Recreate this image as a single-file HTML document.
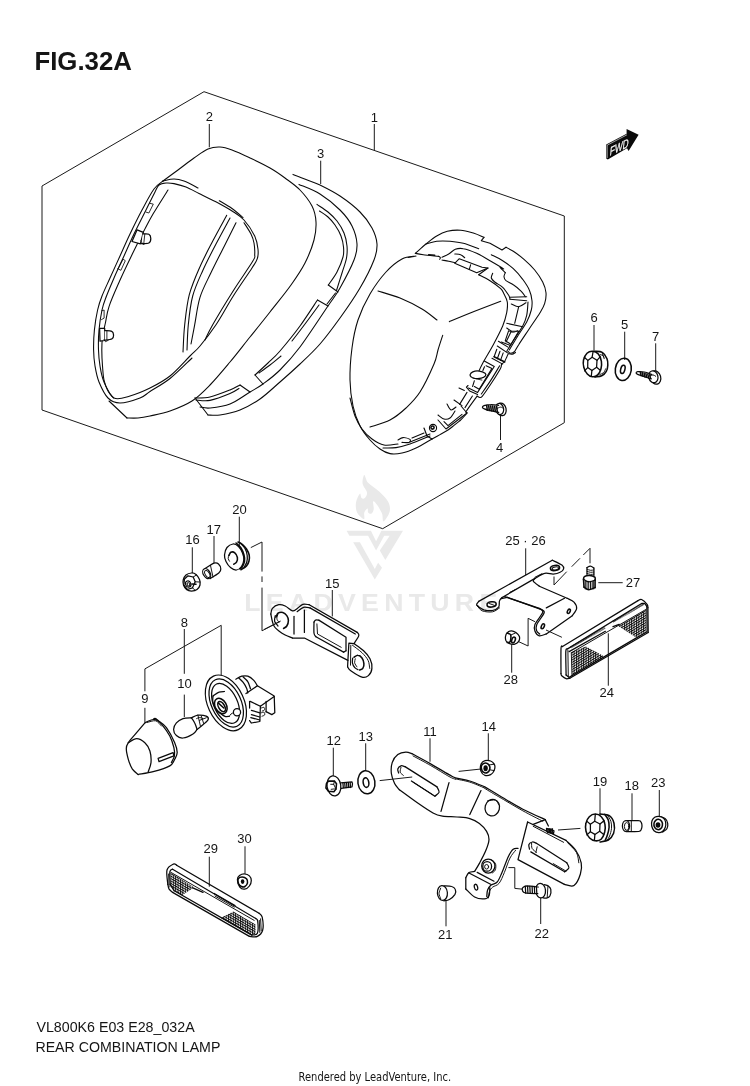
<!DOCTYPE html>
<html><head><meta charset="utf-8"><title>FIG.32A REAR COMBINATION LAMP</title>
<style>
html,body{margin:0;padding:0;background:#fff;}
svg{display:block;filter:grayscale(1);}
.l{fill:none;stroke:#0a0a0a;stroke-width:1.25;stroke-linecap:round;stroke-linejoin:round;}
.t{fill:none;stroke:#0a0a0a;stroke-width:0.95;stroke-linecap:round;stroke-linejoin:round;}
.k{fill:none;stroke:#0a0a0a;stroke-width:1.55;stroke-linecap:round;stroke-linejoin:round;}
.w{fill:#fff;stroke:#0a0a0a;stroke-width:1.25;stroke-linecap:round;stroke-linejoin:round;}
.wt{fill:#fff;stroke:#0a0a0a;stroke-width:0.95;stroke-linecap:round;stroke-linejoin:round;}
.b{fill:#0a0a0a;stroke:none;}
#p1 .l,#p2 .l,#p3 .l,#p2clips .l{stroke-width:1.08;}
#p1 .t,#p2 .t,#p3 .t,#p2clips .t{stroke-width:0.85;}
.d{fill:none;stroke:#1a1a1a;stroke-width:1;stroke-linecap:butt;stroke-linejoin:miter;}
.n{font-family:"Liberation Sans",sans-serif;font-size:13px;fill:#151515;text-anchor:middle;}
.wm{fill:#e9e9e9;stroke:none;}
</style></head>
<body>
<svg width="750" height="1086" viewBox="0 0 750 1086">
<rect width="750" height="1086" fill="#fff"/>
<g id="watermark">
<path class="wm" d="M364.3,474.9 C365.2,474.8 365.7,479.9 368.1,482.7 C370.6,485.4 375.9,488.4 379.2,491.5 C382.5,494.7 386.3,498.1 388,501.5 C389.8,504.8 390.4,508.1 389.7,511.4 C389,514.7 384.9,521 383.6,521.4 C382.3,521.7 383.1,516.4 382,513.6 C380.9,510.9 378.5,506.8 377,504.8 C375.5,502.8 373.7,500.7 373.1,501.5 C372.6,502.2 374,507.2 373.7,509.2 C373.4,511.2 372.4,513.1 371.5,513.6 C370.5,514.2 368.8,513.3 368.1,512.5 C367.5,511.7 368.2,508.6 367.6,508.6 C367,508.6 364.9,510.8 364.3,512.5 C363.7,514.3 365.1,519.1 364,519.1 C362.8,519.1 358.4,515.3 357.1,512.5 C355.8,509.8 355.5,505.7 356,502.6 C356.5,499.4 358.9,494.5 359.9,493.7 C360.8,493 360.7,497.4 361.5,498.1 C362.3,498.9 363.9,499.1 364.8,498.1 C365.8,497.2 367.4,495 367,492.6 C366.7,490.2 363.1,486.7 362.6,483.8 C362.2,480.8 363.4,475.1 364.3,474.9Z"/>
<path class="wm" d="M346.6,530.7 L370.9,530.7 L376.1,541.2 L381.4,530.7 L403,530.7 L385.3,560 L379.8,550.6 L389.7,535.7 L384.2,535.7 L376.1,550.6 L368.1,535.7 L349.4,535.7Z"/>
<path class="wm" d="M353.2,542.3 L359.9,542.3 L374.8,568.9 L378.1,562.8 L382,567.8 L374.8,579.4Z"/>
<text transform="translate(244.2,611.1) scale(1.15,1)" x="0" y="0" style="font-family:'Liberation Sans',sans-serif;font-weight:bold;font-size:23.2px;letter-spacing:4.6px;fill:#e9e9e9">LEADVENTURE</text>
</g>
<g id="text">
<text x="34.4" y="69.6" textLength="97.5" lengthAdjust="spacingAndGlyphs" style="font-family:'Liberation Sans',sans-serif;font-weight:bold;font-size:25.3px;fill:#151515">FIG.32A</text>
<text x="36.4" y="1031.9" textLength="158.3" lengthAdjust="spacingAndGlyphs" style="font-family:'Liberation Sans',sans-serif;font-size:14px;fill:#151515">VL800K6 E03 E28_032A</text>
<text x="35.4" y="1051.8" textLength="185" lengthAdjust="spacingAndGlyphs" style="font-family:'Liberation Sans',sans-serif;font-size:14px;fill:#151515">REAR COMBINATION LAMP</text>
<text x="298.6" y="1081.3" textLength="152.5" lengthAdjust="spacingAndGlyphs" style="font-family:'DejaVu Sans Condensed','DejaVu Sans',sans-serif;font-size:12.6px;fill:#151515">Rendered by LeadVenture, Inc.</text>
</g>
<g id="box">
<path class="d" d="M42,186 L204,91.7 L564.3,216 L564.3,422.7 L382.7,528.7 L42,410Z"/>
</g>
<g id="labels">
<text class="n" x="209.3" y="121">2</text>
<path class="d" d="M209.3,124 L209.3,147.3"/>
<text class="n" x="374.3" y="121.7">1</text>
<path class="d" d="M374.3,124 L374.3,150"/>
<text class="n" x="320.7" y="158.3">3</text>
<path class="d" d="M320.7,160.7 L320.7,184"/>
<text class="n" x="594" y="322">6</text>
<path class="d" d="M594,325 L594,353"/>
<text class="n" x="624.7" y="329.3">5</text>
<path class="d" d="M624.7,331.7 L624.7,360"/>
<text class="n" x="655.7" y="341">7</text>
<path class="d" d="M655.7,343.3 L655.7,371.7"/>
<text class="n" x="499.5" y="451.7">4</text>
<path class="d" d="M500.5,415 L500.5,440"/>
<text class="n" x="525.5" y="545">25 · 26</text>
<path class="d" d="M525.7,548.3 L525.7,575"/>
<text class="n" x="633" y="587.3">27</text>
<path class="d" d="M598.3,582.7 L622.7,582.7"/>
<text class="n" x="510.7" y="684.2">28</text>
<path class="d" d="M511.7,643.3 L511.7,672.7"/>
<text class="n" x="606.7" y="697.3">24</text>
<path class="d" d="M608.3,633.3 L608.3,685.7"/>
<text class="n" x="600" y="785.7">19</text>
<path class="d" d="M600,788.3 L600,816.7"/>
<text class="n" x="631.7" y="790">18</text>
<path class="d" d="M632,793.3 L632,822.7"/>
<text class="n" x="658.2" y="787.3">23</text>
<path class="d" d="M659.3,790 L659.3,818.3"/>
<text class="n" x="541.8" y="937.7">22</text>
<path class="d" d="M540.7,897.3 L540.7,924"/>
<text class="n" x="239.5" y="514">20</text>
<path class="d" d="M239.3,516.7 L239.3,548.3"/>
<text class="n" x="213.8" y="534">17</text>
<path class="d" d="M214,536 L214,563.3"/>
<text class="n" x="192.5" y="544.3">16</text>
<path class="d" d="M192.3,547.3 L192.3,580"/>
<text class="n" x="184.3" y="626.6">8</text>
<path class="d" d="M184.3,629 L184.3,673.8"/>
<text class="n" x="184.6" y="688.3">10</text>
<path class="d" d="M184.3,694.6 L184.3,717"/>
<text class="n" x="144.9" y="703.2">9</text>
<path class="d" d="M144.9,707.8 L144.9,722"/>
<text class="n" x="210.8" y="852.6">29</text>
<path class="d" d="M209.3,856.7 L209.3,886.7"/>
<text class="n" x="244.5" y="843.3">30</text>
<path class="d" d="M245,846.3 L245,874"/>
<text class="n" x="332.2" y="587.7">15</text>
<path class="d" d="M332.3,590 L332.3,616.4"/>
<text class="n" x="333.7" y="745">12</text>
<path class="d" d="M333.3,747.7 L333.3,776.7"/>
<text class="n" x="365.8" y="740.7">13</text>
<path class="d" d="M365.7,743.3 L365.7,770"/>
<text class="n" x="430" y="735.7">11</text>
<path class="d" d="M430,738.3 L430,761.7"/>
<text class="n" x="488.7" y="731">14</text>
<path class="d" d="M488.3,733.3 L488.3,761.7"/>
<text class="n" x="445.3" y="939">21</text>
<path class="d" d="M446,900.7 L446,926.3"/>
<path class="d" d="M144.9,691.3 L144.9,668.9 L221.2,625.3 L221.2,675.5"/>
</g>
<g id="p1">
<path class="l" d="M416,256 C413.7,256.5 407,256.3 402,259 C397,261.7 391.3,266.2 386,272 C380.7,277.8 374.7,286 370,294 C365.3,302 361,311 358,320 C355,329 353.3,338 352,348 C350.7,358 349.8,370.3 350,380 C350.2,389.7 351.3,398.3 353,406 C354.7,413.7 357.2,420.3 360,426 C362.8,431.7 366.7,436.2 370,440 C373.3,443.8 376.7,446.7 380,449 C383.3,451.3 386.3,452.9 390,453.6 C393.7,454.3 397.7,453.9 402,453 C406.3,452.1 411,450.3 416,448 C421,445.7 429.3,440.5 432,439"/>
<path class="l" d="M350,398 C350.8,401 353,410.8 355,416 C357,421.2 359.2,425.2 362,429 C364.8,432.8 368.3,436.3 372,439 C375.7,441.7 379.7,444.2 384,445 C388.3,445.8 395.7,444.2 398,444"/>
<path class="l" d="M383,448 C385.2,447.9 391.5,448.3 396,447.6 C400.5,446.9 404.3,445.9 410,444 C415.7,442.1 426.7,437.3 430,436"/>
<path class="l" d="M378,291 C381.7,292.2 392.7,295 400,298 C407.3,301 415.8,305.3 422,309 C428.2,312.7 434.5,318.2 437,320"/>
<path class="l" d="M449.3,321.7 C453.4,320 465.4,315 474,311.6 C482.6,308.2 496.2,303 500.7,301.3"/>
<path class="l" d="M442.7,335.3 C441.9,337.8 439.4,345.2 438,350 C436.6,354.8 437,357 434,364 C431,371 424.7,384.7 420,392 C415.3,399.3 411,403.3 406,408 C401,412.7 396,416.8 390,420 C384,423.2 373.3,425.8 370,427"/>
<path class="l" d="M415.3,253.3 C417.1,251.8 422.4,246.9 426,244 C429.6,241.1 433.1,238.1 436.7,236 C440.2,233.9 443.3,232.3 447.3,231.3 C451.3,230.4 456.2,229.9 460.7,230.3 C465.1,230.6 470.1,232.2 474,233.3 C477.9,234.5 482.3,236.7 484,237.3"/>
<path class="l" d="M484,237.3 L481.3,240.7 L490,243.3 L502,250 L506,247.3"/>
<path class="l" d="M506,247.3 C507.2,248 510.3,249.3 513.3,251.3 C516.3,253.3 520.4,256.2 524,259.3 C527.6,262.4 531.6,266.2 534.7,270 C537.8,273.8 540.8,278.2 542.7,282 C544.6,285.8 545.7,289.1 546,292.7 C546.3,296.2 545.7,300 544.7,303.3 C543.7,306.7 542.6,308.4 540,312.7 C537.4,316.9 532.9,323.3 529.3,328.7 C525.8,334 521.1,340.9 518.7,344.7 C516.2,348.4 516,349.9 514.7,351.3 C513.3,352.8 511.8,353.3 510.7,353.3 C509.6,353.3 508.4,351.7 508,351.3"/>
<path class="l" d="M426,244 C427.8,243.6 432.7,241.8 436.7,241.3 C440.7,240.9 445.6,241 450,241.3 C454.4,241.7 458.6,242.1 463.3,243.3 C468.1,244.6 476.1,247.8 478.7,248.7"/>
<path class="l" d="M415.3,253.3 C416.7,253.6 419.4,254.2 423.3,254.7 C427.2,255.2 436.1,256.1 438.7,256.4"/>
<path class="k" d="M428.7,254.8 L434.7,255.3"/>
<path class="l" d="M438.7,256.4 C439,256.6 440.2,257.2 440.4,257.7 C440.6,258.2 439.7,259.1 439.6,259.3"/>
<path class="l" d="M408,257.5 L414,256.5"/>
<path class="l" d="M442,257.3 C443.1,256.8 446.4,255.3 448.7,254 C450.9,252.7 452.9,250.2 455.3,249.3 C457.8,248.4 459.8,248 463.3,248.7 C466.9,249.3 472.2,251.3 476.7,253.3 C481.1,255.3 485.6,258.1 490,260.7 C494.4,263.2 501.7,267.6 503.3,268.7 C505,269.8 499.7,266.7 500,267.3 C500.3,268 504.4,271.8 505.3,272.7"/>
<path class="l" d="M505.3,272.7 C505.1,273.3 503.9,275.3 504,276.7 C504.1,278 504.4,279.3 506,280.7 C507.6,282 510.8,282.9 513.3,284.7 C515.9,286.4 519.3,289.3 521.3,291.3 C523.3,293.3 524.7,295.8 525.3,296.7"/>
<path class="l" d="M442,260 C443.1,260.2 446.4,260.9 448.7,261.3 C450.9,261.8 454.2,262.4 455.3,262.7"/>
<path class="l" d="M454.7,254 C455.7,254.1 459,254 460.7,254.7 C462.3,255.3 464,257.2 464.7,257.7"/>
<path class="l" d="M459.3,258.7 L454.7,263.3 L476.7,272.7 L488,268 L482,267.3 L470,262.7 L459.3,258.7"/>
<path class="l" d="M470.7,264.7 L469.3,269.3"/>
<path class="l" d="M488,268 L478.7,274.7"/>
<path class="l" d="M478.7,274.7 C480.6,275.7 486.3,278.3 490,280.7 C493.7,283 498.3,286.4 500.7,288.7 C503,290.9 502.9,291.8 504,294 C505.1,296.2 506.9,298.9 507.3,302 C507.8,305.1 507.4,308.7 506.7,312.7 C505.9,316.7 504.9,320.7 502.7,326 C500.4,331.3 496.7,338.4 493.3,344.7 C490,350.9 485.3,358.3 482.7,363.3 C480,368.3 478.2,372.8 477.3,374.7"/>
<path class="l" d="M492.7,273.3 C492.4,274.1 491,276.6 491.3,278 C491.7,279.4 492.8,280.4 494.7,282 C496.6,283.6 500.3,285.1 502.7,287.3 C505,289.6 507.4,293.3 508.7,295.3 C509.9,297.3 509.8,298.7 510,299.3"/>
<path class="l" d="M491.3,254.7 C493.2,255.7 499,258.3 502.7,260.7 C506.3,263 510,265.6 513.3,268.7 C516.7,271.8 520,275.8 522.7,279.3 C525.3,282.9 527.8,286.4 529.3,290 C530.9,293.6 531.7,297.3 532,300.7 C532.3,304 532.2,306.4 531.3,310 C530.4,313.6 529,317.6 526.7,322 C524.3,326.4 520.2,332 517.3,336.7 C514.4,341.3 510.7,347.8 509.3,350"/>
<path class="l" d="M528,302 C527.8,304.2 527.6,311.3 526.7,315.3 C525.8,319.3 524.9,321.8 522.7,326 C520.4,330.2 516,336.4 513.3,340.7 C510.7,344.9 507.8,349.6 506.7,351.3"/>
<path class="l" d="M510,299.3 L526.7,300.7"/>
<path class="l" d="M510,297.3 L526.7,296.7"/>
<path class="l" d="M511.3,304 C512.6,304.4 516.2,306.9 518.7,306.7 C521.1,306.4 524.8,303.3 526,302.7"/>
<path class="l" d="M518.7,306.7 L514.7,323.3"/>
<path class="l" d="M506.7,323.3 L522.7,326.7"/>
<path class="l" d="M506.7,328 L511.3,331.3 L518.7,331.3"/>
<path class="l" d="M511.3,331.3 L506,342"/>
<path class="l" d="M501.3,342 L510,345.3"/>
<path class="l" d="M518.7,331.3 L510,346"/>
<path class="l" d="M515.5,352.4 C514.9,352.7 513.4,354.1 512.3,354.3 C511.1,354.5 509.4,353.3 508.5,353.7 C507.6,354.1 507.6,355.3 506.9,356.7 C506.2,358.1 505.2,360.8 504.3,362 C503.4,363.2 502.2,363.1 501.6,364.1 C501,365.2 502.1,365.4 500.5,368.4 C498.9,371.4 495,377.6 492,382.3 C489,386.9 484.5,393.6 482.4,396.1 C480.3,398.6 480.1,397.2 479.2,397.2 C478.3,397.2 477.4,396.3 477.1,396.1"/>
<path class="l" d="M477.1,396.1 C475.3,398.6 468.1,408.2 466.4,411.1 C464.7,413.9 468,411.6 466.9,413.2 C465.9,414.8 461.2,419.4 460,420.7"/>
<path class="l" d="M499.7,365.7 C498.2,368.1 494,375.4 490.9,380.1 C487.9,384.8 482.9,391.7 481.3,394"/>
<path class="l" d="M508.5,331.1 L505.3,340.7 L510.1,343.7"/>
<path class="t" d="M508.5,330.9 C509.3,331.1 511.8,332.4 513.3,332.3 C514.8,332.3 516.9,330.9 517.6,330.6"/>
<path class="l" d="M498.4,341.2 L508,347.1"/>
<path class="l" d="M497.3,346 L507.5,352.9"/>
<path class="l" d="M496.8,349.2 L494.1,356.7"/>
<path class="l" d="M500,351.3 L497.3,358.8"/>
<path class="l" d="M503.2,352.9 L500.5,360.4"/>
<path class="k" d="M494.1,356.7 L504.8,362"/>
<path class="l" d="M492,358.3 L502.7,364.1"/>
<path class="l" d="M484.3,361.1 L494.3,366.5 L477.6,392.4 L468.5,388.1"/>
<path class="l" d="M486.1,365.7 L492,368.4 L479.2,389.2 L474.4,386.5"/>
<path class="l" d="M484.5,366.8 L482.9,370.5"/>
<path class="w" d="M470.1,374.6 C470.4,373.7 471.3,372.4 472.8,371.8 C474.3,371.2 477.2,370.8 479.2,371.1 C481.2,371.3 484,372.4 485.1,373.2 C486.1,374 486,375 485.4,375.9 C484.8,376.7 483.1,377.8 481.3,378.2 C479.6,378.7 476.6,378.7 474.9,378.5 C473.2,378.3 472,377.6 471.2,376.9 C470.4,376.3 469.9,375.4 470.1,374.6Z"/>
<path class="t" d="M473.3,378 C474,378.2 476.2,378.7 477.6,379.1 C479,379.4 481.2,380 481.9,380.1"/>
<path class="l" d="M474.4,380.7 L472.6,386.5"/>
<path class="l" d="M468,385.5 L466.4,387.1 L469.6,391 L477.6,394.5"/>
<path class="l" d="M459,388 L464.4,390.4"/>
<path class="l" d="M459.6,404.4 L467,392.4"/>
<path class="l" d="M465,407.6 L472.4,396"/>
<path class="l" d="M454,400 L462,405.6"/>
<path class="l" d="M438,420 L446,429 L467,413 L461,406"/>
<path class="l" d="M444,421.6 L448,425.6 L462,414.4"/>
<path class="l" d="M438,415 C439,415.7 442,418.5 444,419 C446,419.5 448.2,419.3 450,418 C451.8,416.7 454.2,412.2 455,411"/>
<path class="l" d="M447,404 C447.7,405 449.5,409.5 451,410 C452.5,410.5 455.2,407.5 456,407"/>
<path class="l" d="M460,420.6 C459,421.4 456,423.8 454,425.4 C452,427 450.3,428.5 448,430 C445.7,431.5 442.7,433.1 440,434.6 C437.3,436.1 433.3,438.3 432,439"/>
<ellipse class="l" cx="433" cy="428" rx="3.6" ry="3.6"/>
<ellipse class="k" cx="432.5" cy="427.5" rx="1.6" ry="1.6"/>
<path class="l" d="M412,438 L424,433"/>
<path class="l" d="M410,442 L430,434"/>
<path class="l" d="M424,428 L427,436"/>
<path class="l" d="M427,436 L432,439"/>
<path class="l" d="M398,440 C398.8,439.6 401,437.7 403,437.6 C405,437.5 409,438.6 410,439.4 C411,440.2 410.3,441.9 409,442.4 C407.7,442.9 403.2,442.4 402,442.4"/>
</g>
<g id="p2">
<path class="l" d="M163,181 C165.5,179.2 172.8,173.8 178,170 C183.2,166.2 189,161.5 194,158 C199,154.5 203.7,150.8 208,149 C212.3,147.2 216,146.8 220,147 C224,147.2 227,148.2 232,150 C237,151.8 243.7,155 250,158 C256.3,161 264.2,164.7 270,168 C275.8,171.3 280,174.3 285,178 C290,181.7 295.5,185.3 300,190 C304.5,194.7 309.3,200.7 312,206 C314.7,211.3 315.7,216.3 316,222 C316.3,227.7 315.8,233.2 314,240 C312.2,246.8 308.8,255.5 305,263 C301.2,270.5 296.8,276.8 291,285 C285.2,293.2 276.8,303.3 270,312 C263.2,320.7 256.7,328.7 250,337 C243.3,345.3 236.7,354 230,362 C223.3,370 216.3,378.5 210,385 C203.7,391.5 198.7,396.7 192,401 C185.3,405.3 177,408.5 170,411 C163,413.5 155.3,414.8 150,416 C144.7,417.2 141.8,417.7 138,418 C134.2,418.3 128.8,418 127,418"/>
<path class="l" d="M127,418 L109,401"/>
<path class="l" d="M159,185 C160.8,183.5 163.5,183.2 166,183 C168.5,182.8 170.7,182.9 174,183.6 C177.3,184.3 181.8,185.3 186,187 C190.2,188.7 195,191.5 199,193.5 C203,195.5 206.7,197.4 210,199 C213.3,200.6 215,201.3 218.7,203.3 C222.4,205.3 227.8,208.2 232,211 C236.2,213.8 240.2,215.8 244,220 C247.8,224.2 252.4,231.1 254.7,236 C257,240.9 257.6,245.5 258,249.3 C258.4,253.1 258.3,255.6 257.3,258.7 C256.3,261.8 256,261.8 252,268 C248,274.2 239.3,286.6 233.3,296 C227.3,305.4 221.6,316.4 216,324.7 C210.4,333 204.3,340.8 200,346 C195.7,351.2 195,351 190,356 C185,361 176.7,370.7 170,376 C163.3,381.3 156.7,384.7 150,388 C143.3,391.3 136,394.3 130,396 C124,397.7 118.3,400.3 114,398 C109.7,395.7 106.3,387.3 104,382 C101.7,376.7 100.9,371.3 100,366 C99.1,360.7 98.7,356 98.5,350 C98.3,344 98.4,336.7 99,330 C99.6,323.3 100.8,315.7 102,310 C103.2,304.3 104.5,301.3 106.5,296 C108.5,290.7 111.1,284.7 114,278 C116.9,271.3 120.7,263.3 124,256 C127.3,248.7 130.3,241.7 134,234 C137.7,226.3 142.5,217 146,210 C149.5,203 152.8,196.2 155,192 C157.2,187.8 157.2,186.5 159,185Z"/>
<path class="l" d="M163,181 C161.5,182.3 157.5,184.2 154,189 C150.5,193.8 146,202.5 142,210 C138,217.5 133.7,226.3 130,234 C126.3,241.7 123.3,248.7 120,256 C116.7,263.3 113,271.3 110,278 C107,284.7 104.1,290.7 102,296 C99.9,301.3 98.9,304.3 97.6,310 C96.3,315.7 95.1,323.3 94.4,330 C93.7,336.7 93.5,344 93.6,350 C93.7,356 94.1,360.7 95,366 C95.9,371.3 96.8,376.7 99,382 C101.2,387.3 104.5,394.5 108,398 C111.5,401.5 114.7,403 120,403 C125.3,403 135,399.9 140,398 C145,396.1 145,394.8 150,391.5 C155,388.2 163,384.1 170,378.5 C177,372.9 188.3,361.4 192,358"/>
<path class="l" d="M163,181 C164.8,180.7 170.5,179 174,179 C177.5,179 180,179.5 184,181 C188,182.5 195.7,186.8 198,188"/>
<path class="l" d="M219.3,200.7 C221.4,202 228.1,205.7 232,208.5 C235.9,211.3 241.2,216 243,217.5"/>
<path class="l" d="M244,222.7 C245.2,224.6 249.3,230.6 251,234 C252.7,237.4 253.4,239.6 254,243 C254.6,246.4 254.9,251.6 254.7,254.7 C254.5,257.8 256.3,255.3 252.7,261.3 C249.1,267.3 240,280.1 233.3,290.7 C226.6,301.3 217.4,316.5 212.7,324.7 C208,332.9 206.3,337.4 205,340"/>
<path class="l" d="M226.7,215.3 C224.5,219.4 217.8,231.4 213.3,240 C208.9,248.6 204,257.6 200,266.7 C196,275.8 191.9,285 189.3,294.7 C186.8,304.4 185.8,315.1 184.7,324.7 C183.6,334.2 183.3,347.4 183,352"/>
<path class="l" d="M230,218 C227.7,222.3 220.6,235.2 216,244 C211.4,252.8 206.6,262 202.7,270.7 C198.8,279.4 195.1,287 192.7,296 C190.3,305 189.2,315.7 188.3,324.7 C187.4,333.7 187.2,345.8 187,350"/>
<path class="l" d="M236,222.7 C234,226.7 228.2,238.3 224,246.7 C219.8,255.1 214.7,264.9 210.7,273.3 C206.7,281.7 202.7,288.7 200,297.3 C197.3,305.9 196.2,316.9 194.7,324.7 C193.2,332.5 191.6,340.8 191,344"/>
<path class="l" d="M168,190 C165.6,193.9 157.2,207 153.3,213.6 C149.4,220.2 147.9,223.2 144.5,229.8 C141.1,236.4 136.9,244.7 132.7,253.3 C128.5,261.9 123.4,272.5 119.5,281.3 C115.6,290.1 111.4,299.4 109.1,306.3 C106.8,313.2 106.6,317.3 105.5,322.5 C104.4,327.7 103.1,332.7 102.5,337.3 C101.9,341.9 101.8,345.2 101.8,350 C101.8,354.8 102.1,361 102.5,366 C102.9,371 103.1,375.8 104,380 C104.9,384.2 106.4,388 108,391 C109.6,394 112.6,396.8 113.5,398"/>
</g>
<g id="p2clips">
<path class="t" d="M149.6,203.3 L153.3,204.1 L148.9,213 L146,212.1"/>
<path class="t" d="M118,268.8 L123.1,259.2 L125.3,260.7 L120.9,270.3 L118,268.8"/>
<path class="t" d="M101.8,310.8 L104.1,310 L104.1,318.1 L101.5,319.6"/>
<path class="w" d="M137.1,229.8 L143.3,232.4 L140.4,243.9 L132,241.5Z"/>
<path class="w" d="M142.7,233.9 C143.8,233.9 147.6,233.4 148.9,234.2 C150.3,235 150.8,237.1 150.8,238.6 C150.8,240.1 150.5,242.2 148.9,243 C147.4,243.9 142.8,243.5 141.5,243.6"/>
<path class="t" d="M144.8,234.2 L143.8,243.3"/>
<path class="t" d="M140.8,240.8 L143,244.5 L146,243.3"/>
<path class="w" d="M99.6,328.4 L104.7,328.4 L104.7,340.5 L100,341.1Z"/>
<path class="w" d="M104.7,330.6 C105.9,330.8 110.3,330.6 111.8,331.4 C113.3,332.1 113.5,333.8 113.6,335.1 C113.6,336.3 113.6,337.9 112.1,338.7 C110.6,339.6 106,340 104.7,340.2"/>
<path class="t" d="M106.9,330.9 L106.9,339.9"/>
<path class="t" d="M104,339.5 L105.5,341.7 L108.4,340.2"/>
</g>
<g id="p3">
<path class="l" d="M293,174.4 C295.2,175.2 301.5,177.7 306,179.5 C310.5,181.3 314.3,182.2 320,185 C325.7,187.8 333.3,191.5 340,196 C346.7,200.5 354.7,206.7 360,212 C365.3,217.3 369.2,222.7 372,228 C374.8,233.3 376.7,238.7 377,244 C377.3,249.3 376.8,252.7 374,260 C371.2,267.3 365.7,278.3 360,288 C354.3,297.7 346.7,308.7 340,318 C333.3,327.3 326.7,336.3 320,344 C313.3,351.7 306.7,357.7 300,364 C293.3,370.3 286.7,376.2 280,382 C273.3,387.8 266.7,394.3 260,399 C253.3,403.7 246.7,407.3 240,410 C233.3,412.7 225.3,414.2 220,415 C214.7,415.8 210,415 208,415"/>
<path class="l" d="M208,415 L195,398"/>
<path class="l" d="M299,184.4 C302.5,186 313.2,189.7 320,194 C326.8,198.3 334.7,204.7 340,210 C345.3,215.3 349.2,220.3 352,226 C354.8,231.7 356.7,238.3 357,244 C357.3,249.7 356.8,252.7 354,260 C351.2,267.3 344.3,280.3 340,288 C335.7,295.7 334.7,296.2 328,306 C321.3,315.8 308,336.3 300,347 C292,357.7 286.2,363.8 280,370 C273.8,376.2 268,380.3 263,384 C258,387.7 255.5,388.7 250,392 C244.5,395.3 236.7,401.3 230,404 C223.3,406.7 215,407.5 210,408 C205,408.5 201.7,407.2 200,407"/>
<path class="l" d="M317,204.4 C318.8,205.7 324.7,209.2 328,212 C331.3,214.8 334.3,217.5 337,221 C339.7,224.5 342.3,228.8 344,233 C345.7,237.2 346.6,241.8 347,246 C347.4,250.2 347.3,253.5 346.5,258 C345.7,262.5 343.7,267.6 342,273 C340.3,278.4 337.4,287.6 336.5,290.5"/>
<path class="l" d="M319.5,211 C320.9,212 325.4,214.7 328,217 C330.6,219.3 332.8,221.8 335,225 C337.2,228.2 339.6,232.3 341,236 C342.4,239.7 343.2,243.5 343.5,247 C343.8,250.5 344.1,252.8 343,257 C341.9,261.2 339.4,267.3 337,272 C334.6,276.7 329.8,282.8 328.3,285"/>
<path class="l" d="M328.3,285 L338,292"/>
<path class="l" d="M335.5,293 L327,304"/>
<path class="l" d="M328,306 L317.5,300"/>
<path class="l" d="M317.5,300 C314.6,304.3 306.2,317.5 300,326 C293.8,334.5 285.3,344.8 280,351 C274.7,357.2 272.2,359 268,363 C263.8,367 257.2,373 255,375"/>
<path class="l" d="M319,305 C316.7,308.2 309.5,318 305,324 C300.5,330 294.2,338.2 292,341"/>
<path class="l" d="M281,356 C279.2,357.5 273.7,362.2 270,365 C266.3,367.8 260.8,371.7 259,373"/>
<path class="l" d="M255,375 L263,384"/>
<path class="l" d="M250,392 L240,385"/>
<path class="l" d="M240,385 C238.3,385.8 235,388 230,390 C225,392 215.8,395.7 210,397 C204.2,398.3 197.5,397.8 195,398"/>
<path class="l" d="M239,388.5 C237.5,389.4 234.8,391.6 230,393.6 C225.2,395.6 215.7,399.3 210,400.4 C204.3,401.5 198.3,400.1 196,400"/>
</g>
<g id="p4">
<ellipse class="w" cx="501.4" cy="409.4" rx="4.7" ry="6.4" transform="rotate(-12 501.4 409.4)"/>
<ellipse class="w" cx="499.6" cy="409" rx="4" ry="5.6" transform="rotate(-12 499.6 409)"/>
<path class="w" d="M498.7,405.3 C497.3,405.2 493.1,404.6 490.7,404.7 C488.2,404.7 485.4,405.3 484,405.7 C482.6,406.2 482.4,406.8 482.4,407.3 C482.4,407.9 482.9,408.4 484.3,408.9 C485.6,409.5 488.3,410.1 490.7,410.7 C493.1,411.2 497.3,412.1 498.7,412.4"/>
<path class="k" d="M486.7,405.5 L487.3,410.3"/>
<path class="k" d="M488.7,405.7 L489.3,410.6"/>
<path class="k" d="M490.7,405.9 L491.3,410.9"/>
<path class="k" d="M492.7,406.1 L493.3,411.3"/>
<path class="k" d="M494.7,406.3 L495.3,411.6"/>
<path class="k" d="M496.7,406.5 L497.3,411.9"/>
<path class="t" d="M496.7,408.7 C497.3,408.4 499.5,407.1 500.7,407.1 C501.8,407.1 503.2,408.4 503.7,408.7"/>
</g>
<g id="p567">
<path class="k" d="M595,351.3 C596.2,351.5 600.3,351 602.3,352.3 C604.3,353.5 606.1,356.5 607,358.7 C607.9,360.8 607.9,363.2 607.8,365.3 C607.7,367.4 607.4,369.6 606.3,371.3 C605.3,373.1 603.6,374.8 601.7,375.7 C599.8,376.7 596.1,376.8 595,377.1"/>
<path class="w" d="M592.5,351.3 C594.4,351.4 596.8,352.3 598.3,354 C599.8,355.7 601,358.9 601.4,361.3 C601.8,363.8 601.6,366.4 601,368.7 C600.4,370.9 599.1,373.6 597.7,374.9 C596.2,376.3 594.2,377 592.5,376.8 C590.7,376.6 588.7,375.6 587.3,374 C585.8,372.4 584.4,369.7 583.8,367.3 C583.2,365 583,362.3 583.5,360 C584.1,357.7 585.5,354.8 587,353.3 C588.5,351.9 590.6,351.2 592.5,351.3Z" style="stroke-width:1.55"/>
<path class="l" d="M592.1,357.3 L597,360.3 L596.6,367.3 L591.9,370.4 L587.7,367.6 L587.8,360.4Z"/>
<path class="l" d="M592.1,357.3 L593,352"/>
<path class="l" d="M597,360.3 L600.3,356.7"/>
<path class="l" d="M596.6,367.3 L600.6,370.4"/>
<path class="l" d="M591.9,370.4 L591.3,376.3"/>
<path class="l" d="M587.7,367.6 L584.6,370.9"/>
<path class="l" d="M587.8,360.4 L584.3,357.3"/>
<path class="t" d="M600.3,354.7 C600.8,354.8 602.6,355.1 603.3,355.7 C603.9,356.4 603.9,358.2 604.1,358.7"/>
<path class="t" d="M599.8,374.4 C600.4,374.1 602.7,373.6 603.7,372.7 C604.6,371.7 605.3,369.3 605.7,368.7"/>
<path class="t" d="M602.3,353.3 L603.7,357.3"/>
<ellipse class="k" cx="623.3" cy="369.4" rx="8" ry="11.2" transform="rotate(8 623.3 369.4)"/>
<ellipse class="k" cx="622.8" cy="369.4" rx="2.1" ry="4.2" transform="rotate(14 622.8 369.4)"/>
<ellipse class="w" cx="655.5" cy="377.5" rx="5.2" ry="6.8" transform="rotate(-15 655.5 377.5)"/>
<ellipse class="w" cx="653.3" cy="376.8" rx="4.6" ry="6" transform="rotate(-15 653.3 376.8)"/>
<path class="w" d="M651.7,374.4 C650.4,374 646.7,372.4 644.3,372 C642,371.6 639,371.6 637.7,371.7 C636.3,371.9 636.1,372.6 636.1,373.1 C636.1,373.5 636.3,373.8 637.7,374.4 C639,375 642.1,375.9 644.3,376.7 C646.6,377.4 650.1,378.6 651.3,378.9"/>
<path class="k" d="M640.3,372 L641.1,375.7"/>
<path class="k" d="M642.2,372.5 L643,376.3"/>
<path class="k" d="M644.1,373.1 L644.9,376.8"/>
<path class="k" d="M645.9,373.6 L646.7,377.3"/>
<path class="k" d="M647.8,374.1 L648.6,377.9"/>
<path class="k" d="M649.7,374.7 L650.5,378.4"/>
<path class="t" d="M649.7,376 C650.2,375.8 652,374.9 653,374.9 C654,375 655.2,376 655.7,376.3"/>
</g>
<g id="p8">
<path class="l" d="M235.8,679.2 C236.8,678.7 239.8,676.7 241.8,676.2 C243.8,675.7 245.8,675.5 247.8,676.2 C249.8,676.9 252.2,678.8 253.8,680.4 C255.4,682 256.8,684.9 257.4,685.8"/>
<path class="l" d="M238.8,678 C239.5,678.7 241.7,680.5 243,682.2 C244.3,683.9 245.8,686.4 246.6,688.2 C247.4,690 247.6,692.2 247.8,693"/>
<path class="l" d="M243,676.8 C243.8,677.6 246.6,679.6 247.8,681.6 C249.1,683.6 250,687.6 250.5,688.8"/>
<path class="l" d="M246,693.6 L257.4,685.8 L274.2,696 L274.8,712.8 L271.8,714.6 L266.1,711.6"/>
<path class="l" d="M250.2,701.4 L260.4,706.2 L274.2,696.6"/>
<path class="l" d="M260.4,706.2 L259.8,721.5 L251.4,723 L249.6,720.6"/>
<path class="l" d="M266.1,701.4 L266.1,711.9"/>
<path class="l" d="M249.6,701.4 L249.6,708"/>
<path class="l" d="M251.4,710.4 L259.8,712.8"/>
<path class="l" d="M251.4,714.6 L259.8,717"/>
<path class="l" d="M250.8,717.6 L259.8,720"/>
<path class="t" d="M261.3,708 C261.7,707.9 263.5,707.1 264,707.4 C264.6,707.7 264.9,709.2 264.6,709.8 C264.3,710.4 262.6,710.8 262.2,711"/>
<path class="t" d="M261.3,712.8 C261.7,712.7 263.5,711.9 264,712.2 C264.6,712.6 265,714.3 264.6,715 C264.3,715.6 262.4,716 262,716.2"/>
<ellipse class="w" cx="225.9" cy="702.9" rx="18.1" ry="29.5" transform="rotate(-25 225.9 702.9)" style="stroke-width:1.2"/>
<ellipse class="l" cx="226.2" cy="703" rx="14.8" ry="25.6" transform="rotate(-25 226.2 703)"/>
<ellipse class="l" cx="225.6" cy="703.4" rx="11.8" ry="21.4" transform="rotate(-25 225.6 703.4)"/>
<path class="l" d="M213,696 C214,695.4 217.1,692.9 219,692.2 C220.9,691.4 223.5,691.6 224.4,691.5"/>
<path class="l" d="M213,696 C213,697 212.4,700 212.8,702 C213.2,704 214.3,706.2 215.4,708 C216.5,709.8 218,711.4 219.6,712.8 C221.2,714.2 223.4,715.8 225,716.4 C226.6,717 228.5,716.4 229.2,716.4"/>
<ellipse class="k" cx="220.8" cy="706" rx="5.6" ry="8.2" transform="rotate(-30 220.8 706)"/>
<ellipse class="k" cx="221.6" cy="706.6" rx="3" ry="5.6" transform="rotate(-30 221.6 706.6)"/>
<path class="k" d="M218.4,703.2 L223.8,708"/>
<ellipse class="w" cx="237" cy="712.2" rx="3.6" ry="3.6"/>
<path class="t" d="M229.2,716.4 C229.5,716 230.3,714.6 231,714 C231.7,713.4 233,713 233.4,712.8"/>
</g>
<g id="p9_10">
<path class="l" d="M144.9,722.8 C143.5,724.4 139.3,729.4 136.6,732.7 C133.8,736 130,740 128.3,742.7 C126.6,745.3 126.3,745.7 126.3,748.5 C126.3,751.2 127.3,755.8 128.3,759.3 C129.3,762.7 130.8,766.7 132.4,769.2 C134.1,771.7 137.3,773.6 138.2,774.5"/>
<path class="l" d="M138.2,774.5 C140.7,774 147.9,773.1 153.2,771.7 C158.4,770.3 166.2,768 169.8,765.9 C173.3,763.8 173.5,761.5 174.7,759.3 C176,757 177.2,755.4 177.2,752.6 C177.2,749.9 176.5,746.8 174.7,742.7 C172.9,738.5 168.9,731.2 166.4,727.7 C163.9,724.3 162,723.3 159.8,721.9 C157.6,720.6 155.7,719.3 153.2,719.5 C150.7,719.6 146.3,722.2 144.9,722.8"/>
<path class="l" d="M128.3,742.7 C129.7,742 133.8,738.5 136.6,738.5 C139.3,738.5 142.7,740.6 144.9,742.7 C147.1,744.7 148.8,747.6 149.9,751 C150.9,754.3 151.3,759.1 151,762.6 C150.7,766 148.7,770.2 148.2,771.7"/>
<path class="l" d="M153.2,719.5 C153.6,719.3 154.2,717.8 155.7,718.6 C157.1,719.5 159.4,721.5 161.8,724.4 C164.1,727.3 167.7,732.2 169.8,736 C171.8,739.9 173.1,744.3 173.9,747.6 C174.7,751 174.8,753.4 174.4,755.9 C174,758.4 171.9,761.5 171.4,762.6"/>
<path class="t" d="M147.4,722.4 C148.7,722.2 153.3,720.2 155.7,720.8 C158,721.4 160.5,725.2 161.5,726.1"/>
<path class="l" d="M158.1,758.4 L173.1,752.6 L173.9,755.9 L159,761.7Z"/>
<path class="l" d="M191.3,717.8 C189.9,717.9 185.5,717.8 183,718.6 C180.5,719.5 178,721 176.4,722.8 C174.8,724.6 173.6,727.3 173.6,729.4 C173.6,731.5 174.8,734.1 176.4,735.5 C178,737 180.3,738.3 183,738 C185.8,737.8 190.6,735.5 193,734 C195.3,732.6 196.4,730.2 197.1,729.4"/>
<path class="l" d="M191.3,717.8 C191.9,718.6 193.7,720.8 194.6,722.8 C195.6,724.7 196.7,728.3 197.1,729.4"/>
<path class="l" d="M191.3,717.8 C192.4,717.4 195.5,715.4 197.9,715.1 C200.4,714.9 204.5,715.4 206.2,716.1 C207.9,716.9 208.8,718 208.2,719.5 C207.7,720.9 204.8,723.1 202.9,724.8 C201.1,726.4 198.1,728.6 197.1,729.4"/>
<path class="t" d="M197.9,715.1 L200.4,726.1"/>
<path class="t" d="M201.3,716.1 L203.7,723.6"/>
<path class="t" d="M196.6,718.6 C197.1,718.4 198.6,717.5 199.6,717.5 C200.7,717.5 202.4,718.4 202.9,718.6"/>
<path class="t" d="M199.6,720.3 L206.2,717.8"/>
</g>
<g id="p11">
<path class="l" d="M399.4,789.8 C398.6,788.7 395.9,786.1 394.6,783.4 C393.3,780.7 391.8,777.3 391.4,773.8 C391,770.3 391.1,765.8 392.2,762.6 C393.3,759.4 395.5,756.3 397.8,754.6 C400.1,752.9 403.4,752.3 405.8,752.2 C408.2,752.1 411.1,753.5 412.2,753.8"/>
<path class="l" d="M412.2,753.8 C415.1,755.4 423.7,759.9 429.8,763.4 C435.9,766.9 444.7,772.2 449,774.6 C453.3,777 451.9,776.7 455.4,777.8 C458.9,778.9 465,779.5 469.8,781 C474.6,782.5 481.5,785.5 484.2,786.6 C486.9,787.7 483,785.8 486,787.6 C489,789.4 495.9,793.6 502,797.2 C508.1,800.8 515.6,805.5 522.8,809.2 C530,812.9 541.5,817.9 545.2,819.6"/>
<path class="t" d="M413,755.9 C415.9,757.5 424.6,762 430.6,765.5 C436.6,768.9 444.9,774.2 449,776.5 C453.1,778.8 454.3,778.8 455.4,779.2"/>
<path class="t" d="M455.4,778.9 C457.8,779.5 465,780.6 469.8,782.1 C474.6,783.6 481.5,786.7 484.2,787.9 C486.9,789.1 482.8,787.2 486,789.2 C489.2,791.2 497.5,796 503.6,799.6 C509.7,803.2 516.3,807.2 522.8,810.8 C529.3,814.4 539.5,819.5 542.8,821.2"/>
<path class="l" d="M399.4,789.8 C402.3,791.9 411.4,798.7 417,802.6 C422.6,806.5 428.7,810.7 433,813 C437.3,815.3 438.6,815.5 442.6,816.2 C446.6,816.9 452.5,816.6 457,817 C461.5,817.4 466.1,817.5 469.8,818.6 C473.5,819.7 476.6,821.3 479.4,823.4 C482.2,825.5 485,828.7 486.6,831.4 C488.2,834.1 489.1,836.2 489,839.4 C488.9,842.6 487.4,846.6 485.8,850.6 C484.2,854.6 481.3,859.9 479.4,863.4 C477.5,866.9 475.4,870.1 474.6,871.4"/>
<path class="l" d="M474.6,871.4 C473.7,871.6 470.5,871.5 469,872.5 C467.5,873.6 466.3,876.9 465.8,877.8"/>
<path class="l" d="M465.8,877.8 L465.8,889"/>
<path class="l" d="M465.8,889 C467.3,890.3 471.5,895.3 474.6,897 C477.7,898.7 481.8,899.1 484.2,898.9 C486.6,898.7 488.1,897.6 489,895.7 C489.9,893.9 489.7,889.1 489.8,887.7"/>
<path class="l" d="M486.8,896.4 C486.9,895.3 486.9,891.9 487.6,890 C488.3,888.1 489.2,886.5 490.8,885.2 C492.4,883.9 495.3,884.1 497.2,882 C499.1,879.9 500.1,876.7 502,872.4 C503.9,868.1 506.5,860.3 508.4,856.4 C510.3,852.5 511.6,850.5 513.2,849.2 C514.8,847.9 517.2,848.5 518,848.4"/>
<path class="t" d="M488.4,898 C488.6,896.9 488.8,893.1 489.5,891.3 C490.2,889.5 491.1,888.5 492.7,887.1 C494.3,885.8 497.2,885.7 499.1,883.3 C501.1,880.8 502.6,876.6 504.4,872.4 C506.2,868.2 508.1,861.7 510,858 C511.9,854.3 514.7,851.6 515.6,850.3"/>
<path class="l" d="M469,873 L490.6,884.2"/>
<path class="l" d="M477.2,872.4 L494,881.2"/>
<path class="l" d="M398.6,773 C398.5,772.3 397.4,770.2 397.8,769 C398.2,767.8 399.8,766.2 401,765.8 C402.2,765.4 404.3,766.5 405,766.6"/>
<path class="l" d="M405,766.6 L437,786.9"/>
<path class="l" d="M437,786.9 C437.3,787.8 439.4,790.7 439.1,792.2 C438.7,793.7 435.6,795.5 434.9,796.2"/>
<path class="l" d="M434.9,796.2 L411.4,781"/>
<path class="t" d="M401,767.4 C400.9,768.2 399.8,770.9 400.2,772.2 C400.6,773.5 402.9,774.9 403.4,775.4"/>
<path class="t" d="M413,782.1 L433,794.9"/>
<path class="l" d="M449,782.6 L441,811.4"/>
<path class="l" d="M481,790.6 L469.8,814.6"/>
<ellipse class="l" cx="492.3" cy="807.6" rx="7.2" ry="8.4" transform="rotate(15 492.3 807.6)"/>
<path class="t" d="M487.4,801 C488.7,800.9 493.5,799.5 495.4,800.2 C497.3,800.9 498.3,804.2 498.9,805"/>
<ellipse class="w" cx="488.3" cy="866" rx="6.6" ry="7"/>
<ellipse class="l" cx="487.2" cy="866.4" rx="4.4" ry="4.8"/>
<ellipse class="t" cx="486.6" cy="866.8" rx="2" ry="2.3"/>
<path class="t" d="M491.4,860.2 C492.1,860.7 494.7,861.8 495.4,863.4 C496.1,865 495.9,868.2 495.4,869.8 C494.9,871.4 492.7,872.5 492.2,873"/>
<ellipse class="l" cx="476" cy="887.2" rx="1.6" ry="3" transform="rotate(-15 476 887.2)"/>
<path class="l" d="M545.2,819.6 L533.2,824.4"/>
<path class="l" d="M527.6,822 L518,859.6 L564.4,884.4"/>
<path class="l" d="M564.4,884.4 C566,884.6 571.3,887.3 574,885.5 C576.7,883.8 579.2,877.8 580.4,874 C581.6,870.2 582,866.8 581.2,862.8 C580.4,858.8 578.1,853.7 575.6,850 C573.1,846.3 567.6,842 566,840.4"/>
<path class="l" d="M566,840.4 L527.6,822"/>
<path class="l" d="M545.2,819.6 L548.4,826"/>
<path class="t" d="M533.2,826.3 L563.6,842.3"/>
<path class="t" d="M567.6,842.8 C569.1,844.4 574.5,849.1 576.4,852.4 C578.3,855.7 578.4,861.1 578.8,862.8"/>
<path class="l" d="M529.5,849.2 C529.4,848.4 528.4,845.6 528.9,844.4 C529.4,843.2 531.1,842.2 532.4,842 C533.7,841.8 535.7,843.1 536.4,843.3"/>
<path class="l" d="M536.4,843.3 L566.8,862.8"/>
<path class="l" d="M566.8,862.8 C567.1,863.7 569.2,866.4 568.9,867.9 C568.5,869.4 565.4,871.1 564.7,871.8"/>
<path class="l" d="M564.7,871.8 L530.8,851.9"/>
<path class="t" d="M531.6,843.3 C531.7,844.1 531.3,846.9 532.1,848.4 C532.9,849.9 535.7,851.7 536.4,852.4"/>
<path class="t" d="M537.2,846.8 L535.9,852.4"/>
<path class="t" d="M553.2,863.6 L566,871.1"/>
<path class="w" d="M546.5,828.4 L554,830.8 L553.5,833.7 L546.8,831.6Z"/>
<path class="k" d="M548.1,828.9 L547.8,832.7"/>
<path class="k" d="M549.5,828.9 L549.2,832.7"/>
<path class="k" d="M551,828.9 L550.6,832.7"/>
<path class="k" d="M552.4,828.9 L552.1,832.7"/>
<path class="d" d="M558,830 L580.4,828.4"/>
<path class="d" d="M379.7,780.6 L412.2,777"/>
<path class="d" d="M458.6,771.4 L481,769"/>
<path class="d" d="M508.4,867.6 L514.8,867.6 L514.8,888.4 L522.8,889.2"/>
</g>
<g id="p12_13_14_18_19_23">
<path class="w" d="M340.8,782.9 L352,781.9 L352.5,783.8 L352,786.8 L341.3,788.3"/>
<path class="l" d="M342.9,782.7 L343.3,787.5"/>
<path class="l" d="M344.7,782.7 L345.1,787.5"/>
<path class="l" d="M346.6,782.7 L346.9,787.5"/>
<path class="l" d="M348.4,782.7 L348.7,787.5"/>
<path class="l" d="M350.2,782.7 L350.5,787.5"/>
<ellipse class="w" cx="333.9" cy="785.9" rx="6.9" ry="10.1" transform="rotate(-8 333.9 785.9)" style="stroke-width:1.3"/>
<path class="k" d="M326.4,783.8 L328.5,781.1 L334.4,781.1 L336.5,783.8 L336,789.1 L333.9,791.8 L328.5,791.3 L325.9,788.1Z"/>
<path class="t" d="M334.4,781.1 L333.7,784.3 L336,789.1"/>
<path class="t" d="M330.7,784.3 L333.7,784.3"/>
<path class="t" d="M331.2,789.3 L334.4,788.9"/>
<ellipse class="k" cx="366.4" cy="782.3" rx="8.5" ry="11.6" transform="rotate(-8 366.4 782.3)" style="stroke-width:1.5"/>
<ellipse class="k" cx="366" cy="782.6" rx="2.8" ry="4.8" transform="rotate(-10 366 782.6)"/>
<path class="w" d="M481,764.2 C481.7,762.4 483.4,761.2 485,760.7 C486.6,760.1 489,760.3 490.6,761 C492.2,761.7 494,763.4 494.6,765 C495.2,766.6 494.8,769 494.1,770.6 C493.5,772.2 492.1,773.8 490.6,774.6 C489.1,775.4 486.6,775.9 485,775.4 C483.4,774.9 481.7,773.3 481,771.4 C480.3,769.5 480.3,766 481,764.2Z"/>
<path class="k" d="M481.8,765 C482.5,764 484.3,762.9 485.5,762.9 C486.7,762.9 488.3,764 489,765 C489.7,766 490.1,767.7 489.8,769 C489.5,770.3 488.5,772 487.4,772.5 C486.3,773.1 484.4,772.8 483.4,772.2 C482.4,771.6 481.7,770.2 481.5,769 C481.2,767.8 481.1,766 481.8,765Z"/>
<ellipse class="b" cx="485.6" cy="768.2" rx="2.2" ry="3"/>
<path class="t" d="M489,765 L493.8,764.2"/>
<path class="t" d="M489.8,769.8 L494.1,770.6"/>
<path class="k" d="M600,814 C601.6,814.3 607,814.2 609.3,815.7 C611.7,817.3 613.3,820.4 614,823.3 C614.7,826.3 614.6,830.6 613.6,833.3 C612.6,836.1 610.5,838.6 608.3,840 C606,841.4 601.4,841.6 600,841.9"/>
<path class="w" d="M595.3,814 C597.3,814 599.7,815 601.3,816.7 C602.9,818.3 604.4,821.4 604.9,824 C605.5,826.6 605.3,829.4 604.7,832 C604,834.6 602.6,837.9 601.1,839.3 C599.5,840.8 597.2,841 595.3,840.8 C593.4,840.6 591.2,839.6 589.6,838 C588,836.4 586.6,833.8 586,831.3 C585.4,828.9 585.3,825.8 585.9,823.3 C586.4,820.9 587.8,818.2 589.3,816.7 C590.9,815.1 593.3,814 595.3,814Z" style="stroke-width:1.55"/>
<path class="k" d="M604.7,814.4 C605.3,815.3 607.5,817.8 608.3,820 C609,822.2 609.2,824.8 609.1,827.3 C608.9,829.9 608,833.2 607.3,835.3 C606.7,837.4 605.7,839.2 605.3,840"/>
<path class="t" d="M607.3,814.9 C607.9,816 610.2,819 610.9,821.3 C611.6,823.6 611.7,826.2 611.5,828.7 C611.2,831.1 610.3,834.1 609.6,836 C608.9,837.9 607.7,839.3 607.3,840"/>
<path class="l" d="M594.7,821.3 L600,824 L599.7,831.3 L594.9,834.4 L590.4,831.7 L590.4,824.3Z"/>
<path class="l" d="M594.7,821.3 L595.3,814.4"/>
<path class="l" d="M600,824 L604,820.7"/>
<path class="l" d="M599.7,831.3 L604,834.7"/>
<path class="l" d="M594.9,834.4 L594.4,840.5"/>
<path class="l" d="M590.4,831.7 L586.9,834.9"/>
<path class="l" d="M590.4,824.3 L586.7,821.1"/>
<path class="w" d="M626,820.7 C628.1,820.7 636.1,820.3 638.7,820.7 C641.2,821 640.8,821.8 641.3,822.7 C641.9,823.6 642,824.8 642,826 C642,827.2 641.6,828.7 641.1,829.6 C640.5,830.5 641.2,831.2 638.7,831.5 C636.2,831.8 628.1,831.5 626,831.5"/>
<ellipse class="w" cx="626" cy="826" rx="3.6" ry="5.4"/>
<ellipse class="t" cx="626.6" cy="826.4" rx="2.2" ry="3.8"/>
<path class="t" d="M631.3,821.1 L631.3,830.9"/>
<path class="l" d="M660,816.7 C660.9,817 664,817.6 665.3,818.7 C666.6,819.8 667.5,821.7 667.7,823.3 C668,825 667.8,827.2 666.9,828.7 C666.1,830.1 663.4,831.4 662.7,832"/>
<path class="w" d="M658.7,816.3 C660.1,816.4 662.2,817 663.3,818 C664.5,819 665.3,820.4 665.6,822 C665.9,823.6 665.8,825.8 665.3,827.3 C664.8,828.9 663.8,830.4 662.7,831.3 C661.6,832.2 660.1,832.8 658.7,832.7 C657.2,832.6 655.2,831.8 654,830.7 C652.8,829.6 652.1,827.7 651.7,826 C651.4,824.3 651.5,822.1 652,820.7 C652.5,819.2 653.6,818.1 654.7,817.3 C655.8,816.6 657.2,816.2 658.7,816.3Z"/>
<path class="k" d="M658.4,819.3 C659.4,819.5 660.9,820.3 661.6,821.3 C662.3,822.3 662.6,824.1 662.4,825.3 C662.2,826.6 661.5,828 660.7,828.7 C659.9,829.4 658.6,829.8 657.6,829.6 C656.6,829.4 655.3,828.4 654.7,827.3 C654.1,826.3 653.8,824.5 654,823.3 C654.2,822.2 655,820.9 655.7,820.3 C656.5,819.6 657.4,819.2 658.4,819.3Z"/>
<ellipse class="b" cx="658" cy="825" rx="2.4" ry="2.8"/>
</g>
<g id="p15">
<path class="l" d="M270.8,614 C271.1,613.1 271.1,609.9 272.4,608.4 C273.7,606.9 276.7,605.1 278.8,604.7 C280.9,604.3 282.9,605 285.2,606 C287.5,607 290.5,610.3 292.4,610.8 C294.3,611.3 294.7,610.3 296.4,609.2 C298.1,608.1 300.7,605.1 302.8,604.4 C304.9,603.7 308.1,604.7 309.2,604.7"/>
<path class="l" d="M309.2,604.7 L357.2,632.4"/>
<path class="l" d="M357.2,632.4 C357.5,632.9 359.3,633.7 358.8,635.6 C358.3,637.5 354.8,642.3 354,643.6"/>
<path class="l" d="M354,643.6 C355.6,644.8 360.9,648.3 363.6,650.8 C366.3,653.3 368.6,655.9 370,658.8 C371.4,661.7 372.2,665.6 371.9,668.4 C371.7,671.2 370.1,674.1 368.4,675.6 C366.7,677.1 364.9,678 362,677.2 C359.1,676.4 353.2,672.5 350.8,670.8 C348.4,669.1 348.1,667.5 347.6,666.8"/>
<path class="l" d="M347.6,666.8 L347.9,660.4 L304.4,638 L292.4,638"/>
<path class="l" d="M292.4,638 C290.7,637.2 285.1,635.2 282,633.2 C278.9,631.2 275.9,629.2 274,626 C272.1,622.8 271.3,616 270.8,614"/>
<path class="l" d="M297.2,611.6 C298.3,610.9 301.5,607.9 303.6,607.3 C305.7,606.7 308.9,607.8 310,607.9"/>
<path class="l" d="M310,607.9 L355.3,634"/>
<path class="t" d="M352.4,645.2 C354,646.5 359.4,650.2 362,652.7 C364.6,655.3 366.8,657.8 368.1,660.4 C369.4,663 369.4,667.1 369.7,668.4"/>
<path class="k" d="M275.9,617.2 C276.3,616.5 276.9,614 278,613.2 C279.1,612.4 281.3,612 282.8,612.4 C284.3,612.8 285.9,614.3 286.8,615.6 C287.7,616.9 288.4,618.7 288.4,620.4 C288.4,622.1 287.6,624.7 286.8,626 C286,627.3 284.1,628 283.6,628.4"/>
<path class="l" d="M275.3,615.6 C275.2,616.5 274.2,619.5 274.6,621.2 C275.1,622.9 277.4,625.2 278,626"/>
<path class="t" d="M278,614 C277.8,614.8 276.7,617.5 276.9,618.8 C277,620.1 278.5,621.5 278.8,622"/>
<path class="l" d="M294,616.4 L294,634"/>
<path class="l" d="M304.4,610 L304.4,632.4"/>
<path class="l" d="M314,622 C314.3,621.7 314.8,620.4 315.6,620.1 C316.4,619.8 318.3,620.1 318.8,620.1"/>
<path class="l" d="M318.8,620.1 L346,637.2 L346,650.8"/>
<path class="l" d="M346,650.8 L343.6,652.1"/>
<path class="l" d="M343.6,652.1 L315.9,636.7"/>
<path class="l" d="M315.9,636.7 C315.6,636.1 314.3,635.7 314,633.2 C313.7,630.7 314,623.9 314,622"/>
<path class="t" d="M316.9,623.9 L317.5,634 L341.2,647.3"/>
<path class="l" d="M354,643.6 L348.9,643.1 L347.9,660.4"/>
<path class="t" d="M350.8,645.2 L350.5,665.2"/>
<path class="k" d="M354,657.2 C354.7,656.9 356.7,655.1 358,655.3 C359.3,655.4 361,656.6 362,658 C363,659.4 363.8,661.9 363.9,663.6 C364.1,665.3 363.5,667.3 362.8,668.4 C362.1,669.5 360.1,669.7 359.6,670"/>
<path class="l" d="M352.7,658 C352.7,658.8 352.1,661.2 352.4,662.8 C352.7,664.4 353.9,666.5 354.8,667.6 C355.7,668.7 357.5,669.3 358,669.7"/>
<path class="t" d="M355.3,658.8 C355.2,659.5 354.4,661.5 354.6,662.8 C354.9,664.1 356.5,666.1 356.9,666.8"/>
<path class="d" d="M280.4,621.2 L264,629.5"/>
</g>
<g id="p16_17_20">
<path class="k" d="M238,542 C238.8,542.4 241.1,543.3 242.5,544.5 C243.9,545.7 245.4,547.2 246.5,549 C247.6,550.8 248.8,553 249.2,555 C249.6,557 249.4,559.2 249,561 C248.6,562.8 247.8,564.5 246.5,566 C245.2,567.5 241.9,569.2 241,569.8"/>
<path class="w" d="M233,544 C234.9,543.8 236.9,545 238.5,546.5 C240.1,548 241.6,550.8 242.5,553 C243.4,555.2 244,557.8 243.8,560 C243.6,562.2 242.7,564.8 241.5,566.5 C240.3,568.2 238.3,569.8 236.5,570 C234.7,570.2 232.2,568.9 230.5,567.5 C228.8,566.1 227,563.6 226,561.5 C225,559.4 224.3,557.3 224.5,555 C224.7,552.7 225.6,549.3 227,547.5 C228.4,545.7 231.1,544.2 233,544Z"/>
<path class="k" d="M236,543 C236.8,543.8 239.7,546 241,548 C242.3,550 243.4,552.8 244,555 C244.6,557.2 244.8,559.5 244.5,561.5 C244.2,563.5 242.9,565.8 242.2,567 C241.4,568.2 240.4,568.7 240,569"/>
<path class="l" d="M240,542.8 C240.8,543.8 243.8,546.4 245,548.5 C246.2,550.6 246.9,553.2 247.2,555.5 C247.5,557.8 247.3,560 246.8,562 C246.3,564 244.5,566.6 244,567.5"/>
<path class="k" d="M229,555.5 C229.3,555 229.8,552.7 230.8,552.2 C231.8,551.8 233.7,551.9 234.8,552.8 C235.9,553.7 237.1,555.9 237.4,557.5 C237.7,559.1 237.1,561.1 236.5,562.2 C235.9,563.3 234.2,563.9 233.8,564.2"/>
<path class="t" d="M228.8,555 C228.7,555.6 228.1,557.5 228.2,558.5 C228.3,559.5 229.3,560.8 229.5,561.2"/>
<path class="w" d="M204.5,569 C206.1,568 211.7,564 214,563.2 C216.3,562.4 217.4,563 218.5,564 C219.6,565 220.8,567.5 220.8,569 C220.9,570.5 220.6,571.4 218.8,573 C217,574.6 211.5,577.7 210,578.6"/>
<ellipse class="w" cx="206.7" cy="573.6" rx="3.4" ry="5.4" transform="rotate(-30 206.7 573.6)"/>
<ellipse class="t" cx="207.3" cy="574" rx="2.1" ry="3.8" transform="rotate(-30 207.3 574)"/>
<path class="t" d="M210.5,565.5 L213,577"/>
<path class="w" d="M191.5,573 C193.2,572.9 194.7,573.4 196,574.5 C197.3,575.6 198.8,577.8 199.5,579.5 C200.2,581.2 200.4,583.3 200,585 C199.6,586.7 198.4,588.5 197,589.5 C195.6,590.5 193.2,591 191.5,591 C189.8,591 187.8,590.5 186.5,589.5 C185.2,588.5 184.1,586.6 183.5,585 C182.9,583.4 182.8,581.7 183.2,580 C183.6,578.3 184.6,576.2 186,575 C187.4,573.8 189.8,573.1 191.5,573Z"/>
<path class="l" d="M184.5,579 L188,575.8 L193.2,577 L195.2,581.8 L192.5,587.8 L187.2,589.5 L183.8,585Z"/>
<ellipse class="l" cx="188.2" cy="584" rx="2.6" ry="3.2" transform="rotate(-20 188.2 584)"/>
<ellipse class="t" cx="188.4" cy="584.3" rx="1.2" ry="1.7" transform="rotate(-20 188.4 584.3)"/>
<path class="t" d="M193.2,577 L196.5,575"/>
<path class="t" d="M195.2,581.8 L199.8,582"/>
<path class="t" d="M192.5,587.8 L195,590.2"/>
<path class="k" d="M192,584 L196,584.2"/>
<path class="d" d="M250.8,547.6 L262,542 L262,571.6"/>
<path class="d" d="M262,576.4 L262,582"/>
<path class="d" d="M262,587.6 L262,630.8 L280.4,621.2"/>
</g>
<g id="p21_22">
<path class="l" d="M443.9,885.9 C445.2,886 449.8,885.9 451.7,886.5 C453.6,887 454.8,888.1 455.3,889.4 C455.9,890.7 455.9,892.6 455,894.3 C454,895.9 451.3,898.4 449.4,899.5 C447.6,900.6 444.8,900.6 443.9,900.8"/>
<ellipse class="w" cx="442.4" cy="893" rx="5" ry="7.4" transform="rotate(-5 442.4 893)"/>
<path class="t" d="M440.7,888.2 C440.5,889.1 439,891.7 439,893.4 C439,895.1 440.5,897.7 440.7,898.6"/>
<path class="w" d="M544.4,884.7 C545,884.9 547.1,885.2 548.2,885.9 C549.3,886.7 550.5,887.7 550.8,889.4 C551.1,891.1 550.7,894.6 549.9,896 C549.2,897.4 547.7,897.8 546.5,898.1 C545.3,898.4 543.3,897.8 542.7,897.7"/>
<path class="t" d="M547.9,886.5 L547.2,897.4"/>
<ellipse class="w" cx="540.6" cy="890.6" rx="4.9" ry="7.3" transform="rotate(-5 540.6 890.6)" style="stroke-width:1.3"/>
<path class="w" d="M538.3,887 C536.4,886.8 529.6,885.9 527.1,885.9 C524.5,886 524,886.8 523.2,887.3 C522.4,887.9 522.1,888.6 522.2,889.4 C522.3,890.2 522.8,891.6 523.6,892.2 C524.4,892.8 524.7,892.8 527.1,893.1 C529.4,893.3 536,893.6 537.8,893.7"/>
<path class="l" d="M525.3,886.3 L525.7,893.2"/>
<path class="l" d="M527.6,886.3 L527.9,893.2"/>
<path class="l" d="M529.8,886.3 L530.2,893.2"/>
<path class="l" d="M532.1,886.3 L532.4,893.2"/>
<path class="l" d="M534.3,886.3 L534.7,893.2"/>
<path class="l" d="M536.4,886.3 L536.8,893.2"/>
</g>
<g id="p24">
<defs><pattern id="hx24" patternUnits="userSpaceOnUse" width="2.4" height="2.4" patternTransform="matrix(1,-0.605,0,1,0,0)"><path d="M0,0.5H2.4M0.5,0V2.4" stroke="#0a0a0a" stroke-width="0.95" fill="none"/></pattern></defs>
<path class="l" d="M561,673.6 C561,669.4 560.8,653.2 561,648.7 C561.2,644.1 562.2,646.8 562.5,646.5"/>
<path class="l" d="M562.5,646.5 L638.0,600.6"/>
<path class="l" d="M638,600.6 C638.6,600.4 640.1,598.9 641.6,599.5 C643.2,600.2 646,603 647.1,604.4 C648.1,605.7 647.8,607.1 647.9,607.6"/>
<path class="l" d="M647.9,607.6 L648.2,632.5"/>
<path class="l" d="M648.2,632.5 L569.8,678.3"/>
<path class="l" d="M569.8,678.3 C569.2,678.3 567.5,679.1 566.1,678.7 C564.8,678.3 562.6,676.6 561.7,675.8 C560.9,674.9 561.1,673.9 561,673.6"/>
<path class="l" d="M566.1,675 C566.1,671.1 565.6,655.9 565.8,651.6 C566.1,647.2 567.3,649.4 567.6,648.9"/>
<path class="l" d="M567.6,648.9 L641.6,603.5"/>
<path class="l" d="M641.6,603.5 C642.1,603.5 643.7,603 644.6,603.5 C645.4,604 646.4,605.9 646.8,606.4"/>
<path class="l" d="M646.8,606.4 L647.1,631.6 L569.1,677.4 L566.1,675"/>
<path class="t" d="M571.3,652.8 L646,609.4"/>
<path class="t" d="M571.3,652.8 L572,675.8"/>
<path class="t" d="M567.9,650.4 L568.3,676.5"/>
<path d="M572.0,651.9 L585.9,646.5 L603.1,655.7 L603.1,657.7 L572.3,675.3 Z" fill="url(#hx24)" stroke="none"/>
<path d="M618.2,625.9 L646.0,609.8 L646.0,631.3 L635.8,637.2 Z" fill="url(#hx24)" stroke="none"/>
<path class="k" d="M570.5,647.5 L605,627.7" style="stroke-width:2;stroke-dasharray:0.7 0.5;stroke-linecap:butt"/>
<path class="k" d="M613,621.7 L643.8,604.1" style="stroke-width:2;stroke-dasharray:0.7 0.5;stroke-linecap:butt"/>
<path class="l" d="M569.1,651.6 L605.4,631.3"/>
<path class="l" d="M613,626.7 L619.2,624.3"/>
</g>
<g id="p25">
<path class="l" d="M477.8,606.1 C477.6,605.8 476.4,605.2 476.6,604.4 C476.7,603.6 478.3,601.9 478.7,601.4"/>
<path class="l" d="M478.7,601.4 L552.3,560.2"/>
<path class="l" d="M552.3,560.2 C553.9,561 560,563.6 561.9,565.1 C563.7,566.5 563.9,567.7 563.6,568.9 C563.3,570.1 561.9,571.5 560.1,572.3 C558.4,573.2 555.8,573.9 553.2,574.1 C550.6,574.2 547.6,572.6 544.5,573.4 C541.5,574.1 536.6,577.6 535,578.4"/>
<path class="l" d="M535,578.4 L502.1,597.5"/>
<path class="l" d="M502.1,597.5 C501.6,598 500,599.3 499.5,600.9 C498.9,602.5 499.8,605.4 498.6,607 C497.4,608.6 495,610 492.5,610.5 C490.1,610.9 486.3,610.5 483.9,609.8 C481.4,609 478.8,606.7 477.8,606.1"/>
<path class="t" d="M476.9,605.3 C477.8,606.2 479.5,609.7 482.1,610.8 C484.7,611.9 489.6,612.3 492.5,611.8 C495.4,611.4 498.3,608.5 499.5,607.9"/>
<ellipse class="k" cx="555" cy="568" rx="4.6" ry="2.6" transform="rotate(-8 555 568)"/>
<ellipse class="t" cx="555.4" cy="568.4" rx="3.2" ry="1.5" transform="rotate(-8 555.4 568.4)"/>
<ellipse class="k" cx="491.6" cy="604.4" rx="4.6" ry="2.6" transform="rotate(-8 491.6 604.4)"/>
<path class="t" d="M489.1,603.5 L494.3,605.3"/>
<path class="l" d="M535,578.4 C534.7,578.9 532.5,580 533.3,581.3 C534,582.6 538.3,585.4 539.3,586.2"/>
<path class="l" d="M539.3,586.2 L567.1,598.3"/>
<path class="l" d="M567.1,598.3 C568.2,599 572.4,600.4 574,602.1 C575.6,603.9 576.9,606.5 576.6,608.7 C576.3,611 573,614.5 572.3,615.7"/>
<path class="l" d="M572.3,615.7 L546.3,633.9"/>
<path class="l" d="M546.3,633.9 C545.1,634.2 541.2,636.2 539.3,635.8 C537.4,635.3 535.7,633.2 535,631.3 C534.3,629.4 533.7,627.5 535,624.3 C536.3,621.1 542.1,614.8 542.8,612.2 C543.5,609.5 539.9,609 539.3,608.4"/>
<path class="l" d="M539.3,608.4 L504.7,596.6"/>
<path class="l" d="M501.2,598.7 L507.3,597.3"/>
<path class="l" d="M507.3,597.3 L540.2,609.1"/>
<path class="l" d="M540.2,609.1 C540.9,609.7 544.8,609.9 544.2,612.5 C543.6,615.1 538,621.6 536.7,624.7 C535.5,627.7 536.2,629.4 536.7,630.9 C537.2,632.5 539.2,633.5 539.7,634"/>
<path class="l" d="M546.3,607.9 L564.5,598.3"/>
<path class="t" d="M509.9,592.3 L515.9,589.3"/>
<path class="t" d="M535,577.2 L541.9,573.7"/>
<ellipse class="k" cx="568.8" cy="611.3" rx="1.3" ry="2.3" transform="rotate(25 568.8 611.3)"/>
<ellipse class="k" cx="542.8" cy="626.3" rx="1.4" ry="2.6" transform="rotate(25 542.8 626.3)"/>
<path class="d" d="M516.8,640.8 L528.1,646 L528.1,618.3 L535,621.7"/>
<path class="d" d="M546,630 L561.9,637.3"/>
<path class="d" d="M554,576.5 L554,585 L566.7,571.7"/>
<path class="d" d="M571.7,566.7 L580,558.3"/>
<path class="d" d="M583.3,555 L590,548.3 L590,563.3"/>
<path class="w" d="M505.5,636.5 C505.7,635.1 506.3,633.6 507.3,632.6 C508.3,631.7 510.2,630.9 511.6,630.9 C513,630.9 514.6,631.7 515.9,632.6 C517.2,633.6 519,635 519.4,636.5 C519.8,638 519.4,640.4 518.5,641.7 C517.7,643 515.8,644 514.2,644.3 C512.6,644.5 510.4,644 509,643.4 C507.6,642.8 506.6,641.9 506,640.8 C505.5,639.6 505.3,637.8 505.5,636.5Z"/>
<path class="k" d="M507.3,633 C507.8,633.3 510.2,633.6 510.7,635.1 C511.2,636.5 510.8,640.4 510.2,641.7 C509.6,642.9 507.8,642.4 507.3,642.5"/>
<ellipse class="k" cx="513.5" cy="640" rx="1.7" ry="3" transform="rotate(20 513.5 640)"/>
<path class="t" d="M510.7,635.1 L515.4,633"/>
<path class="l" d="M587,574.4 L587,567.5"/>
<path class="l" d="M593.9,575.5 L593.9,568"/>
<path class="l" d="M587,567.5 C587.6,567.2 589.3,566 590.5,566.1 C591.6,566.2 593.3,567.7 593.9,568"/>
<path class="t" d="M587,569.2 C587.6,569.4 589.3,570.1 590.5,570.3 C591.6,570.4 593.3,570 593.9,569.9"/>
<path class="t" d="M587,571.3 C587.6,571.5 589.3,572.2 590.5,572.3 C591.6,572.4 593.3,572 593.9,572"/>
<path class="t" d="M587,573.4 C587.6,573.5 589.3,574.3 590.5,574.4 C591.6,574.5 593.3,574.1 593.9,574.1"/>
<path class="k" d="M583.5,579.3 C583.7,578.8 583.4,577.3 584.4,576.7 C585.4,576 587.9,575.4 589.6,575.5 C591.3,575.5 593.9,576.4 594.8,577.2 C595.7,578 595.1,579.6 595.1,580.1"/>
<path class="k" d="M583.5,579.3 L584,587.1"/>
<path class="k" d="M595.1,580.1 L595.1,587.6"/>
<path class="k" d="M584,587.1 C584.8,587.5 586.9,589.6 588.7,589.7 C590.6,589.7 594.1,587.9 595.1,587.6"/>
<path class="l" d="M583.5,579.3 C584.4,579.7 586.8,581.7 588.7,581.9 C590.7,582 594.1,580.4 595.1,580.1"/>
<path class="t" d="M585.3,581.3 L585.3,589"/>
<path class="t" d="M587,581.3 L587,589"/>
<path class="t" d="M588.7,581.3 L588.7,589"/>
<path class="t" d="M590.5,581.3 L590.5,589"/>
<path class="t" d="M592.2,581.3 L592.2,589"/>
<path class="t" d="M593.7,581.3 L593.7,589"/>
</g>
<g id="p29_30">
<defs><pattern id="hx29" patternUnits="userSpaceOnUse" width="2.4" height="2.4" patternTransform="matrix(1,0.574,0,1,0,0)"><path d="M0,0.5H2.4M0.5,0V2.4" stroke="#0a0a0a" stroke-width="0.95" fill="none"/></pattern></defs>
<path class="l" d="M167.8,884.4 C167.7,882 166.1,873.4 167,870 C167.9,866.6 171.8,864.9 173.4,864.1 C175,863.3 176.1,865 176.6,865.2"/>
<path class="l" d="M176.6,865.2 L259,913.2"/>
<path class="l" d="M259,913.2 C259.5,913.9 261.6,914.4 262.2,917.2 C262.8,920 263.5,926.8 262.7,930 C261.9,933.2 259.6,935.3 257.4,936.4 C255.2,937.5 250.7,936.4 249.4,936.4"/>
<path class="l" d="M249.4,936.4 L172.6,892.4"/>
<path class="l" d="M172.6,892.4 C172,891.9 169.9,890.5 169.1,889.2 C168.3,887.9 168,885.2 167.8,884.4"/>
<path class="l" d="M170.2,884.4 C170.1,882.3 169.5,874.1 169.9,871.6 C170.3,869.1 172.1,869.6 172.6,869.2"/>
<path class="l" d="M172.6,869.2 L255.8,918.5"/>
<path class="l" d="M255.8,918.5 C256.1,918.9 257.5,918.7 257.7,921.2 C258,923.7 258.4,930.9 257.4,933.2 C256.4,935.5 252.7,934.8 251.8,935.1"/>
<path class="l" d="M251.8,935.1 L174.2,890.8"/>
<path class="l" d="M170.2,884.4 L174.2,890.8"/>
<path class="t" d="M168.6,874 L169.1,887.1"/>
<path class="t" d="M171,872.4 L254.2,920.4"/>
<path class="t" d="M259.3,920.4 L259.8,932.4"/>
<path class="t" d="M260.6,918.8 L261.2,930.8"/>
<path d="M170.5,872.4 L194.2,887.6 L181.4,895.6 L170.5,887.1 Z" fill="url(#hx29)" stroke="none"/>
<path d="M220.6,918.0 L233.4,911.6 L255.5,924.4 L255.5,934.0 L251.0,935.1 Z" fill="url(#hx29)" stroke="none"/>
<path class="l" d="M193.4,888.1 L203,892.4"/>
<path class="l" d="M214.2,893.5 L235,905.5"/>
<path class="t" d="M215,896.1 L234.2,907.1"/>
<path class="w" d="M237.4,879.6 C237.3,877.7 238.3,876.5 239.5,875.6 C240.7,874.7 242.9,873.9 244.6,874 C246.3,874.1 248.3,874.9 249.4,875.9 C250.5,877 251.3,878.7 251.3,880.4 C251.3,882.1 250.5,884.5 249.4,886 C248.3,887.5 246.2,889 244.6,889.2 C243,889.4 241,888.7 239.8,887.1 C238.6,885.5 237.5,881.5 237.4,879.6Z"/>
<path class="k" d="M238.2,878.8 C238.8,877.7 240.8,876.9 242.2,876.9 C243.6,876.9 245.6,877.8 246.5,878.8 C247.4,879.8 247.7,881.5 247.5,882.8 C247.2,884.1 245.9,885.9 244.9,886.5 C243.9,887.1 242.5,887 241.4,886.5 C240.3,886 239.1,884.9 238.5,883.6 C238,882.3 237.6,879.9 238.2,878.8Z"/>
<ellipse class="b" cx="242.6" cy="881.6" rx="1.8" ry="2.3"/>
</g>
<g id="fwd">
<path class="b" d="M606.2,158.6 L606.2,144.4 L626.6,133.8 L626.6,129 L638.6,134.8 L628.6,151 L627,148.2 L607.8,159.4Z"/>
<path class="t" d="M607.2,157.6 L607.2,145.2 L626.6,135" style="stroke:#fff;stroke-width:0.6"/>
<text transform="matrix(0.9,-0.44,-0.1,1,609.4,156)" x="0" y="0" textLength="21" lengthAdjust="spacingAndGlyphs" style="font-family:'Liberation Sans',sans-serif;font-size:12.5px;fill:#fff;stroke:#fff;stroke-width:0.25">FWD</text>
</g>
</svg>
</body></html>
